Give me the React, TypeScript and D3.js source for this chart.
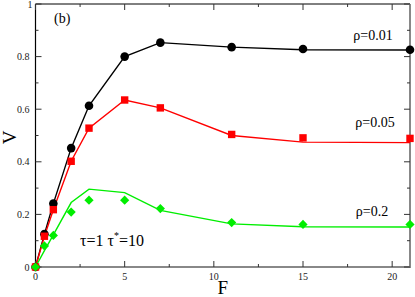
import React, { useRef, useEffect } from "react";
import * as d3 from "d3";

// x positions (F) where points were measured
const fValues = [0, 0.5, 1, 2, 3, 5, 7, 11, 15, 21];

// markers
const rho001 = [0, 0.125, 0.241, 0.452, 0.613, 0.8, 0.853, 0.836, 0.829, 0.826];
const rho005 = [0, 0.117, 0.218, 0.402, 0.528, 0.635, 0.605, 0.504, 0.491, 0.489];
const rho02 = [0, 0.08, 0.12, 0.209, 0.254, 0.254, 0.222, 0.169, 0.162, 0.162];

// the theory curves (slightly off the markers for the two lower series)
const line001 = [0, 0.125, 0.241, 0.452, 0.613, 0.8, 0.853, 0.836, 0.826, 0.825];
const line005 = [0, 0.117, 0.218, 0.402, 0.528, 0.635, 0.605, 0.5, 0.475, 0.473];
const line02 = [0, 0.062, 0.122, 0.245, 0.296, 0.283, 0.215, 0.164, 0.153, 0.152];

const xTicks = [0, 5, 10, 15, 20];
const yTicks = [0, 0.2, 0.4, 0.6, 0.8, 1];
const xMinor = [2.5, 7.5, 12.5, 17.5];
const yMinor = [0.1, 0.3, 0.5, 0.7, 0.9];

const W = 415;
const H = 297;

const App = () => {
  const svgRef = useRef<SVGSVGElement>(null);

  useEffect(() => {
    const svg = d3.select(svgRef.current);
    svg.selectAll("*").remove();

    const x = d3.scaleLinear().domain([0, 21]).range([35.5, 410]);
    const y = d3.scaleLinear().domain([0, 1]).range([267, 4]);
    const font = "'Liberation Serif', 'Times New Roman', serif";

    // frame: top/left black, bottom/right gray
    svg.append("line").attr("x1", x(0)).attr("x2", x(21)).attr("y1", y(1)).attr("y2", y(1))
      .attr("stroke", "#000").attr("stroke-width", 1);
    svg.append("line").attr("x1", x(0)).attr("x2", x(0)).attr("y1", y(0)).attr("y2", y(1))
      .attr("stroke", "#000").attr("stroke-width", 1.2);
    svg.append("line").attr("x1", x(0)).attr("x2", x(21) + 1).attr("y1", y(0)).attr("y2", y(0))
      .attr("stroke", "#888").attr("stroke-width", 2);
    svg.append("line").attr("x1", x(21)).attr("x2", x(21)).attr("y1", y(0)).attr("y2", y(1))
      .attr("stroke", "#888").attr("stroke-width", 2);

    // inward ticks on all four sides
    const tk = svg.append("g").attr("stroke", "#333").attr("stroke-width", 1);
    xTicks.forEach((t) => {
      tk.append("line").attr("x1", x(t)).attr("x2", x(t)).attr("y1", y(0)).attr("y2", y(0) - 6);
      tk.append("line").attr("x1", x(t)).attr("x2", x(t)).attr("y1", y(1)).attr("y2", y(1) + 6);
    });
    xMinor.forEach((t) => {
      tk.append("line").attr("x1", x(t)).attr("x2", x(t)).attr("y1", y(0)).attr("y2", y(0) - 3);
      tk.append("line").attr("x1", x(t)).attr("x2", x(t)).attr("y1", y(1)).attr("y2", y(1) + 3);
    });
    yTicks.forEach((t) => {
      tk.append("line").attr("x1", x(0)).attr("x2", x(0) + 6).attr("y1", y(t)).attr("y2", y(t));
      tk.append("line").attr("x1", x(21)).attr("x2", x(21) - 6).attr("y1", y(t)).attr("y2", y(t));
    });
    yMinor.forEach((t) => {
      tk.append("line").attr("x1", x(0)).attr("x2", x(0) + 3).attr("y1", y(t)).attr("y2", y(t));
      tk.append("line").attr("x1", x(21)).attr("x2", x(21) - 3).attr("y1", y(t)).attr("y2", y(t));
    });

    // tick labels
    svg.append("g").selectAll("text").data(xTicks).join("text")
      .attr("x", (d) => x(d)).attr("y", y(0) + 13)
      .attr("text-anchor", "middle").attr("font-family", font).attr("font-size", 10)
      .attr("fill", "#222").text((d) => String(d));
    svg.append("g").selectAll("text").data(yTicks).join("text")
      .attr("x", (d) => (d === 1 ? x(0) - 3 : x(0) - 6)).attr("y", (d) => y(d) + 3.5)
      .attr("text-anchor", "end").attr("font-family", font).attr("font-size", 10)
      .attr("fill", "#222").text((d) => (d === 0 || d === 1 ? String(d) : d3.format(".1f")(d)));

    // axis titles
    svg.append("text").attr("x", x(10.5)).attr("y", 294).attr("text-anchor", "middle")
      .attr("font-family", font).attr("font-size", 19).text("F");
    svg.append("text").attr("transform", `translate(16,${y(0.5) + 2}) rotate(-90)`)
      .attr("text-anchor", "middle").attr("font-family", font).attr("font-size", 19).text("V");

    const lineGen = d3.line<number>().x((d, i) => x(fValues[i])).y((d) => y(d));

    const series = [
      { line: line001, pts: rho001, color: "#000", shape: "circle" },
      { line: line005, pts: rho005, color: "#ff0000", shape: "square" },
      { line: line02, pts: rho02, color: "#00ee00", shape: "diamond" },
    ];

    series.forEach((s) => {
      svg.append("path").datum(s.line).attr("d", lineGen).attr("fill", "none")
        .attr("stroke", s.color).attr("stroke-width", 1.4);
    });

    series.forEach((s) => {
      const g = svg.append("g").attr("fill", s.color);
      s.pts.forEach((v, i) => {
        const cx = x(fValues[i]);
        const cy = y(v);
        if (s.shape === "circle") {
          g.append("circle").attr("cx", cx).attr("cy", cy).attr("r", 4.3);
        } else if (s.shape === "square") {
          g.append("rect").attr("x", cx - 3.7).attr("y", cy - 3.7).attr("width", 7.4).attr("height", 7.4);
        } else {
          g.append("path").attr("d", `M${cx},${cy - 4.6}L${cx + 4.6},${cy}L${cx},${cy + 4.6}L${cx - 4.6},${cy}Z`);
        }
      });
    });

    // annotations
    const ann = [
      { t: "ρ=0.01", x: 373, y: 40 },
      { t: "ρ=0.05", x: 375, y: 127 },
      { t: "ρ=0.2", x: 372, y: 216 },
    ];
    ann.forEach((a) => {
      svg.append("text").attr("x", a.x).attr("y", a.y).attr("text-anchor", "middle")
        .attr("font-family", font).attr("font-size", 14).text(a.t);
    });
    svg.append("text").attr("x", 54).attr("y", 23).attr("font-family", font).attr("font-size", 14).text("(b)");

    const tau = svg.append("text").attr("x", 80).attr("y", 246).attr("font-family", font).attr("font-size", 16);
    tau.append("tspan").text("τ=1  τ");
    tau.append("tspan").attr("dy", -7).attr("font-size", 10).text("*");
    tau.append("tspan").attr("dy", 7).text("=10");
  }, []);

  return (
    <svg ref={svgRef} width={W} height={H}
      style={{ position: "absolute", left: 0, top: 0, background: "#fff" }} />
  );
};

export default App;
